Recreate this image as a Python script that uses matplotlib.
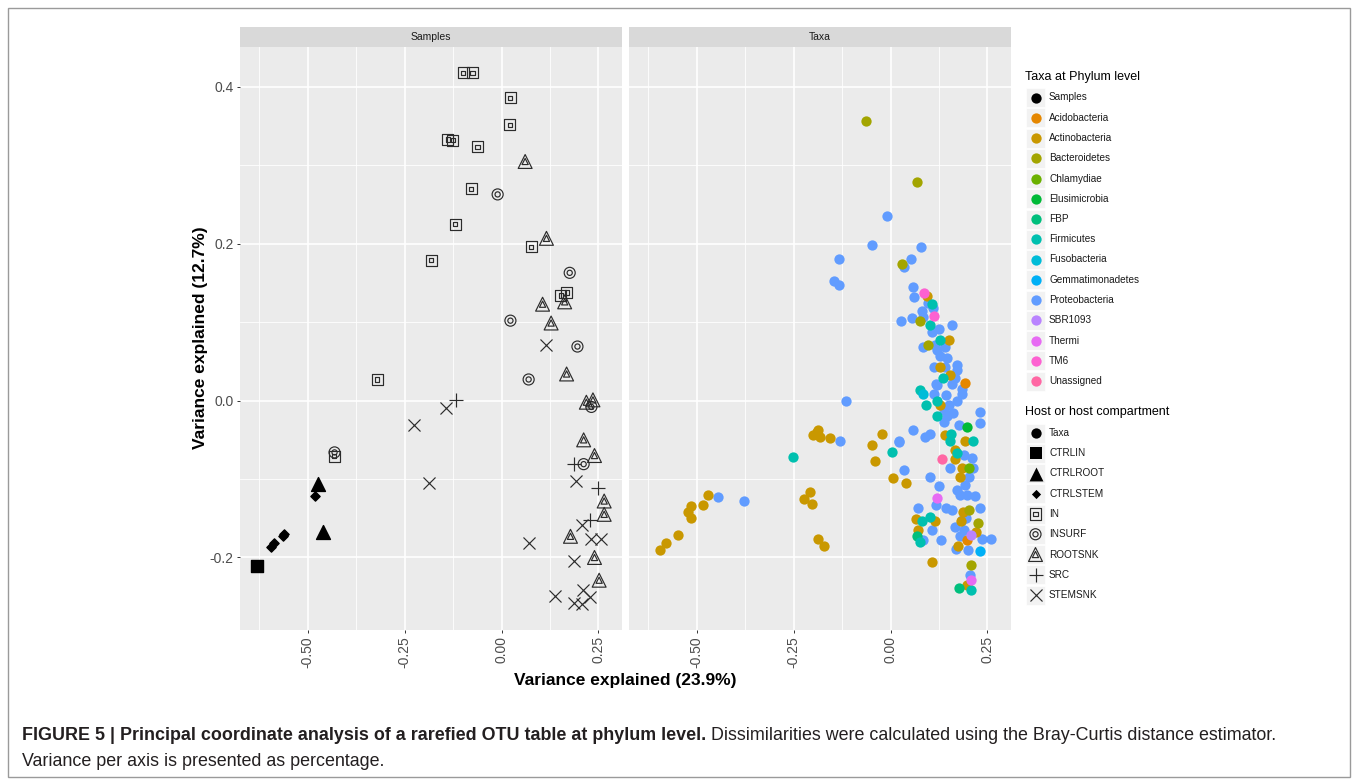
import matplotlib
matplotlib.use("Agg")
import matplotlib.pyplot as plt
from matplotlib.patches import Rectangle

plt.rcParams['font.family'] = ['Liberation Sans', 'DejaVu Sans']

# ---- Samples panel (host / compartment) ----
ctrlin = [(-0.630, -0.211)]
ctrlroot = [(-0.473, -0.106), (-0.461, -0.167)]
ctrlstem = [(-0.481, -0.122), (-0.595, -0.187), (-0.586, -0.181), (-0.565, -0.173), (-0.562, -0.170)]
in_pts = [(-0.099, 0.418), (-0.075, 0.418), (0.022, 0.386), (0.021, 0.352), (-0.139, 0.333),
          (-0.126, 0.332), (-0.062, 0.324), (-0.078, 0.270), (-0.120, 0.225), (-0.181, 0.179),
          (0.077, 0.196), (0.153, 0.134), (0.168, 0.138), (-0.321, 0.027), (-0.432, -0.071)]
insurf = [(-0.010, 0.263), (0.176, 0.163), (0.023, 0.102), (0.196, 0.069), (0.070, 0.027),
          (0.232, -0.008), (0.212, -0.081), (-0.431, -0.066)]
rootsnk = [(0.061, 0.305), (0.116, 0.207), (0.106, 0.123), (0.163, 0.126), (0.128, 0.099),
           (0.168, 0.034), (0.219, -0.002), (0.236, 0.001), (0.212, -0.050), (0.240, -0.070),
           (0.265, -0.128), (0.265, -0.145), (0.178, -0.173), (0.240, -0.200), (0.252, -0.229)]
src = [(-0.118, 0.001), (0.187, -0.081), (0.250, -0.111), (0.229, -0.152)]
stemsnk = [(0.116, 0.071), (-0.144, -0.009), (-0.225, -0.031), (-0.187, -0.105), (0.193, -0.103),
           (0.208, -0.159), (0.072, -0.182), (0.230, -0.176), (0.258, -0.177), (0.186, -0.205),
           (0.137, -0.249), (0.186, -0.258), (0.208, -0.259), (0.210, -0.242), (0.229, -0.250)]

# ---- Taxa panel (phylum) ----
proteobacteria = [
    (-0.009, 0.235), (-0.048, 0.199), (0.078, 0.196), (-0.134, 0.180), (0.053, 0.181), (0.036, 0.170),
    (-0.146, 0.152), (-0.132, 0.148), (0.059, 0.145), (0.061, 0.132), (0.096, 0.125), (0.110, 0.118),
    (0.081, 0.114), (0.085, 0.107), (0.055, 0.106), (0.027, 0.101), (0.124, 0.092), (0.160, 0.097),
    (0.107, 0.088), (0.084, 0.068), (0.115, 0.071), (0.120, 0.065), (0.141, 0.069), (0.128, 0.057),
    (0.146, 0.054), (0.172, 0.046), (0.111, 0.043), (0.141, 0.043), (0.172, 0.039), (0.167, 0.029),
    (0.118, 0.021), (0.159, 0.021), (0.184, 0.015), (0.120, 0.020), (0.111, 0.009), (0.144, 0.007),
    (0.184, 0.009), (0.137, -0.012), (0.150, -0.005), (0.172, -0.001), (0.161, -0.016), (0.230, -0.014),
    (0.232, -0.028), (0.137, -0.027), (0.145, -0.020), (0.176, -0.031), (0.059, -0.037), (0.090, -0.046),
    (0.101, -0.042), (0.023, -0.052), (0.189, -0.069), (0.210, -0.073), (0.154, -0.086), (0.035, -0.088),
    (0.213, -0.086), (0.202, -0.097), (0.101, -0.098), (0.124, -0.109), (0.172, -0.114), (0.193, -0.108),
    (0.180, -0.120), (0.197, -0.120), (0.219, -0.122), (0.117, -0.133), (0.071, -0.137), (0.144, -0.137),
    (0.159, -0.140), (0.230, -0.137), (0.167, -0.161), (0.184, -0.152), (0.195, -0.150), (0.190, -0.165),
    (0.107, -0.165), (0.085, -0.178), (0.131, -0.178), (0.180, -0.172), (0.236, -0.176), (0.259, -0.177),
    (0.170, -0.189), (0.199, -0.190), (0.204, -0.222), (-0.115, 0.000), (-0.130, -0.051), (0.022, -0.053),
    (-0.445, -0.123), (-0.377, -0.128)]
acidobacteria = [(0.191, 0.023), (0.197, -0.178)]
actinobacteria = [
    (0.094, 0.133), (0.152, 0.077), (0.128, 0.043), (0.154, 0.033), (0.128, -0.005), (0.141, -0.044),
    (0.193, -0.052), (0.167, -0.063), (0.167, -0.074), (0.184, -0.086), (0.180, -0.097), (0.006, -0.099),
    (0.041, -0.105), (0.187, -0.142), (0.066, -0.151), (0.114, -0.153), (0.183, -0.154), (0.072, -0.165),
    (0.221, -0.168), (0.173, -0.186), (0.107, -0.206), (0.197, -0.235),
    (-0.190, -0.040), (-0.183, -0.046), (-0.199, -0.044), (-0.186, -0.037), (-0.156, -0.048),
    (-0.023, -0.042), (-0.048, -0.057), (-0.041, -0.077), (-0.471, -0.120), (-0.484, -0.133),
    (-0.515, -0.135), (-0.524, -0.142), (-0.515, -0.150), (-0.549, -0.171), (-0.580, -0.182),
    (-0.595, -0.190), (-0.207, -0.116), (-0.224, -0.126), (-0.202, -0.132), (-0.188, -0.176),
    (-0.171, -0.185)]
bacteroidetes = [(-0.064, 0.356), (0.069, 0.279), (0.030, 0.174), (0.077, 0.102), (0.098, 0.071),
                 (0.203, -0.140), (0.227, -0.156), (0.208, -0.210)]
chlamydiae = [(0.202, -0.086)]
elusimicrobia = [(0.197, -0.034)]
fbp = [(0.068, -0.173), (0.178, -0.239)]
firmicutes = [(0.107, 0.123), (0.101, 0.097), (0.127, 0.077), (0.135, 0.029), (0.077, 0.014),
              (0.092, -0.005), (0.120, -0.001), (0.120, -0.020), (0.157, -0.042), (0.154, -0.052),
              (0.214, -0.051), (0.004, -0.066), (0.172, -0.067), (-0.251, -0.072), (0.081, -0.153),
              (0.101, -0.149), (0.077, -0.180), (0.209, -0.241)]
fusobacteria = [(0.085, 0.009)]
gemmatimonadetes = [(0.232, -0.192)]
sbr1093 = [(0.209, -0.171)]
thermi = [(0.120, -0.124), (0.209, -0.229)]
tm6 = [(0.087, 0.137), (0.111, 0.108)]
unassigned = [(0.134, -0.074)]

phyla = ['Samples', 'Acidobacteria', 'Actinobacteria', 'Bacteroidetes', 'Chlamydiae', 'Elusimicrobia',
         'FBP', 'Firmicutes', 'Fusobacteria', 'Gemmatimonadetes', 'Proteobacteria', 'SBR1093',
         'Thermi', 'TM6', 'Unassigned']
phylum_colors = ['#000000', '#E58700', '#C99800', '#A3A500', '#6BB100', '#00BA38', '#00BF7D',
                 '#00C0AF', '#00BCD8', '#00B0F6', '#619CFF', '#B983FF', '#E76BF3', '#FD61D1', '#FF67A4']
hosts = ['Taxa', 'CTRLIN', 'CTRLROOT', 'CTRLSTEM', 'IN', 'INSURF', 'ROOTSNK', 'SRC', 'STEMSNK']

x_ticks = [-0.50, -0.25, 0.00, 0.25]
y_ticks = [0.4, 0.2, 0.0, -0.2]

W, H = 1358, 781
EDGE = '#2b2b2b'
fig = plt.figure(figsize=(W / 100, H / 100), dpi=100)


def box(x0, y0, x1, y1):
    return [x0 / W, 1 - y1 / H, (x1 - x0) / W, (y1 - y0) / H]


def style_panel(ax, title, left):
    ax.set_facecolor('#EBEBEB')
    ax.set_xlim(-0.675, 0.311)
    ax.set_ylim(-0.2925, 0.451)
    ax.set_xticks(x_ticks)
    ax.set_xticks([-0.625, -0.375, -0.125, 0.125], minor=True)
    ax.set_yticks(y_ticks)
    ax.set_yticks([0.3, 0.1, -0.1], minor=True)
    ax.set_xticklabels(['%.2f' % v for v in x_ticks], rotation=90)
    ax.grid(True, which='major', color='white', lw=1.2)
    ax.grid(True, which='minor', color='white', lw=0.6)
    ax.set_axisbelow(True)
    for s in ax.spines.values():
        s.set_visible(False)
    ax.tick_params(which='major', length=2.5, width=0.7, color='#333333', labelcolor='#4D4D4D',
                   labelsize=10, pad=2)
    ax.tick_params(which='minor', length=0)
    if left:
        ax.set_yticklabels(['%.1f' % v for v in y_ticks])
    else:
        ax.tick_params(axis='y', which='both', left=False, labelleft=False)
    pos = ax.get_position()
    sax = fig.add_axes([pos.x0, pos.y1, pos.width, 20 / H])
    sax.set_facecolor('#D9D9D9')
    sax.set_xticks([])
    sax.set_yticks([])
    for s in sax.spines.values():
        s.set_visible(False)
    sax.text(0.5, 0.5, title, ha='center', va='center', fontsize=7.5, color='#1A1A1A',
             transform=sax.transAxes)


def xy(pts):
    return [p[0] for p in pts], [p[1] for p in pts]


def open_marker(ax, pts, outer, s_out, inner=None, s_in=None):
    xs, ys = xy(pts)
    ax.scatter(xs, ys, marker=outer, s=s_out, facecolors='none', edgecolors=EDGE, linewidths=0.85, zorder=3)
    if inner:
        ax.scatter(xs, ys, marker=inner, s=s_in, facecolors='none', edgecolors=EDGE, linewidths=0.85, zorder=3)


ax_s = fig.add_axes(box(240, 47, 622, 630))
ax_t = fig.add_axes(box(629, 47, 1011, 630))
style_panel(ax_s, 'Samples', True)
style_panel(ax_t, 'Taxa', False)

# samples
open_marker(ax_s, in_pts, 's', 63, 's', 9)
open_marker(ax_s, insurf, 'o', 63, 'o', 14)
open_marker(ax_s, rootsnk, '^', 100, '^', 20)
ax_s.scatter(*xy(src), marker='+', s=110, color=EDGE, linewidths=0.85, zorder=3)
ax_s.scatter(*xy(stemsnk), marker='x', s=75, color=EDGE, linewidths=0.85, zorder=3)
ax_s.scatter(*xy(ctrlin), marker='s', s=63, color='black', zorder=3)
ax_s.scatter(*xy(ctrlroot), marker='^', s=100, color='black', zorder=3)
ax_s.scatter(*xy(ctrlstem), marker='D', s=22, color='black', zorder=3)

# taxa
taxa_groups = [proteobacteria, acidobacteria, actinobacteria, bacteroidetes, chlamydiae,
               elusimicrobia, fbp, firmicutes, fusobacteria, gemmatimonadetes, sbr1093,
               thermi, tm6, unassigned]
taxa_colors = ['#619CFF', '#E58700', '#C99800', '#A3A500', '#6BB100', '#00BA38', '#00BF7D',
               '#00C0AF', '#00BCD8', '#00B0F6', '#B983FF', '#E76BF3', '#FD61D1', '#FF67A4']
for pts, c in zip(taxa_groups, taxa_colors):
    ax_t.scatter(*xy(pts), s=55, color=c, linewidths=0, zorder=3)

# axis titles
fig.text(625 / W, 1 - 680 / H, 'Variance explained (23.9%)', ha='center', va='center',
         fontsize=12.5, fontweight='bold')
fig.text(200 / W, 1 - 338 / H, 'Variance explained (12.7%)', ha='center', va='center',
         rotation=90, fontsize=12.5, fontweight='bold')

# overlay in pixel coordinates: legend, frame, caption
ov = fig.add_axes([0, 0, 1, 1])
ov.set_xlim(0, W)
ov.set_ylim(H, 0)
ov.axis('off')
ov.set_facecolor('none')

ov.add_patch(Rectangle((8, 8), 1342, 769, fill=False, edgecolor='#9a9a9a', lw=1))

step = 20.25
ov.text(1025, 77, 'Taxa at Phylum level', fontsize=9, va='center', color='black')
for i, (name, c) in enumerate(zip(phyla, phylum_colors)):
    yc = 97.5 + i * step
    ov.add_patch(Rectangle((1026, yc - 9.5), 19, 19, facecolor='#F2F2F2', edgecolor='white', lw=0.5))
    ov.scatter([1035.5], [yc], s=55, color=c, linewidths=0)
    ov.text(1049, yc, name, fontsize=7.2, va='center', color='#1A1A1A')

ov.text(1025, 412, 'Host or host compartment', fontsize=9, va='center', color='black')
host_style = [('o', 55, None, True), ('s', 63, None, True), ('^', 100, None, True), ('D', 22, None, True),
              ('s', 63, 's', False), ('o', 63, 'o', False), ('^', 100, '^', False),
              ('+', 110, None, None), ('x', 75, None, None)]
inner_size = {'s': 9, 'o': 14, '^': 20}
for i, (name, (mk, sz, inner, filled)) in enumerate(zip(hosts, host_style)):
    yc = 433 + i * step
    ov.add_patch(Rectangle((1026, yc - 9.5), 19, 19, facecolor='#F2F2F2', edgecolor='white', lw=0.5))
    if filled is True:
        ov.scatter([1035.5], [yc], marker=mk, s=sz, color='black', linewidths=0)
    elif filled is False:
        ov.scatter([1035.5], [yc], marker=mk, s=sz, facecolors='none', edgecolors=EDGE, linewidths=0.85)
        ov.scatter([1035.5], [yc], marker=inner, s=inner_size[inner], facecolors='none',
                   edgecolors=EDGE, linewidths=0.85)
    else:
        ov.scatter([1035.5], [yc], marker=mk, s=sz, color=EDGE, linewidths=0.85)
    ov.text(1049, yc, name, fontsize=7.2, va='center', color='#1A1A1A')

# caption
t1 = ov.text(22, 735, 'FIGURE 5 | Principal coordinate analysis of a rarefied OTU table at phylum level.',
             fontsize=12.9, fontweight='bold', va='center', color='#231F20')
fig.canvas.draw()
bb = t1.get_window_extent()
ov.text(bb.x1 + 5, 735, 'Dissimilarities were calculated using the Bray-Curtis distance estimator.',
        fontsize=12.9, va='center', color='#231F20')
ov.text(22, 761, 'Variance per axis is presented as percentage.', fontsize=12.9, va='center',
        color='#231F20')

fig.savefig('out.png', dpi=100)
